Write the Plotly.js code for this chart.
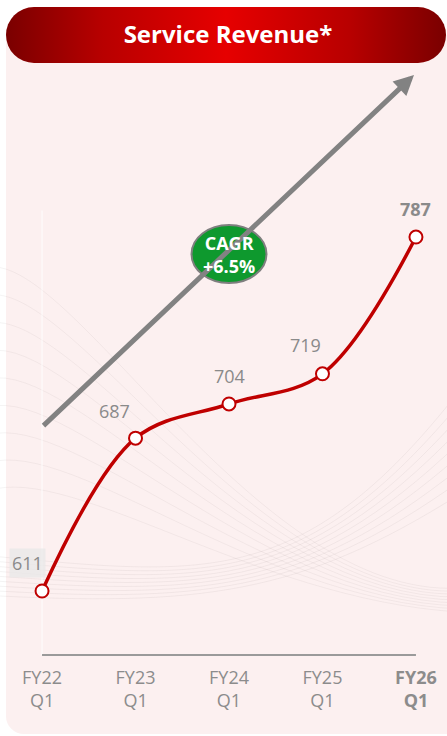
<!DOCTYPE html>
<html>
<head>
<meta charset="utf-8">
<script src="https://cdn.plot.ly/plotly-3.0.1.min.js"></script>
<style>
  html, body { margin:0; padding:0; background:#ffffff; }
  #wrap { position:relative; width:447px; height:736px; overflow:hidden; }
  #panel { position:absolute; left:6px; top:35px; width:441px; height:699px; background:#FCF0F0; border-bottom-left-radius:18px; }
  #pill { position:absolute; left:6px; top:7px; width:440px; height:56px; border-radius:28px;
          background:linear-gradient(to right, #7a0000 0%, #b80000 22%, #e60000 50%, #b80000 78%, #7a0000 100%); }
  #chart { position:absolute; left:0; top:0; width:447px; height:736px; }
</style>
</head>
<body>
<div id="wrap">
  <div id="panel"></div>
  <div id="pill"></div>
  <div id="chart"></div>
</div>
<script>
// ---- data ----
const categories = ["FY22 Q1", "FY23 Q1", "FY24 Q1", "FY25 Q1", "FY26 Q1"];
const tickLabels = ["FY22<br>Q1", "FY23<br>Q1", "FY24<br>Q1", "FY25<br>Q1", "<b>FY26</b><br><b>Q1</b>"];
const revenue = [611, 687, 704, 719, 787];
const valueLabels = ["611", "687", "704", "719", "<b>787</b>"];
const cagrText = "<b>CAGR</b><br><b>+6.5%</b>";
const titleText = "<b>Service Revenue*</b>";

// ---- geometry helpers (pixel -> paper) ----
const W = 447, H = 736;
const M = {l:14, r:3, t:70, b:81};
const pw = W - M.l - M.r, ph = H - M.t - M.b;
const px = X => (X - M.l) / pw;
const py = Y => (H - M.b - Y) / ph;
function pathPx(pts) {
  let s = "M " + px(pts[0][0]).toFixed(4) + "," + py(pts[0][1]).toFixed(4);
  for (let i = 1; i < pts.length; i++) {
    const p = pts[i];
    s += " C " + px(p[0]).toFixed(4) + "," + py(p[1]).toFixed(4) + " " +
         px(p[2]).toFixed(4) + "," + py(p[3]).toFixed(4) + " " +
         px(p[4]).toFixed(4) + "," + py(p[5]).toFixed(4);
  }
  return s;
}

// decorative faint background curves
const decoShapes = [];
for (let k = 0; k < 9; k++) {
  const y0 = 250 + k * 28;
  decoShapes.push({type:"path", xref:"paper", yref:"paper", layer:"below",
    path: pathPx([[-20, y0 + 20], [60, y0 - 20, 250, 600, 460, 588 + k * 3]]),
    line:{color:"rgba(120,105,105,0.07)", width:1}});
}
for (let k = 0; k < 9; k++) {
  decoShapes.push({type:"path", xref:"paper", yref:"paper", layer:"below",
    path: pathPx([[-20, 555 + k * 5], [200, 575 + k * 4, 300, 595, 460, 390 + k * 13]]),
    line:{color:"rgba(120,105,105,0.08)", width:1}});
}

const xIdx = categories.map((c, i) => i);

const trace = {
  x: xIdx, y: revenue, type: "scatter", mode: "lines+markers",
  line: {color:"#BF0000", width:3.5, shape:"spline", smoothing:1},
  marker: {size:13, color:"#ffffff", line:{color:"#BF0000", width:2}},
  hoverinfo: "skip", cliponaxis: false
};

const labelShift = [[-15, 28], [-21, 27], [0, 28], [-17, 29], [0, 28]];
const annotations = revenue.map((v, i) => ({
  x: xIdx[i], y: v, xref:"x", yref:"y", text: valueLabels[i], showarrow:false,
  xshift: labelShift[i][0], yshift: labelShift[i][1],
  font: {family:"Open Sans", size:18, color:"#8a8a8a"},
  bgcolor: i === 0 ? "rgba(232,232,232,0.75)" : "rgba(0,0,0,0)", borderpad: 2
}));

// growth arrow
annotations.push({
  xref:"paper", yref:"paper", axref:"paper", ayref:"paper",
  x: px(414), y: py(75), ax: px(42), ay: py(427),
  showarrow:true, arrowhead:2, arrowsize:0.8, arrowwidth:5, arrowcolor:"#828282", text:""
});
// CAGR text
annotations.push({
  xref:"paper", yref:"paper", x: px(229), y: py(254), text: cagrText, showarrow:false,
  font:{family:"Open Sans", size:18, color:"#ffffff"}, xanchor:"center", yanchor:"middle"
});

const shapes = decoShapes.concat([
  {type:"line", xref:"x", yref:"paper", x0:0, x1:0, y0:0, y1:0.76, layer:"below",
   line:{color:"rgba(255,255,255,0.45)", width:2}},
  {type:"line", xref:"x", yref:"paper", x0:0, x1:xIdx[xIdx.length-1], y0:0, y1:0,
   line:{color:"#9a9a9a", width:2}},
  {type:"circle", xref:"paper", yref:"paper", x0:px(191.5), x1:px(266.5), y0:py(283), y1:py(225),
   fillcolor:"#0E992E", line:{color:"#7f7f7f", width:2}}
]);

const yMin = 611 - (655 - 591) / 2.011;
const yMax = 611 + (591 - 70) / 2.011;

const layout = {
  width: W, height: H, margin: M,
  paper_bgcolor:"rgba(0,0,0,0)", plot_bgcolor:"rgba(0,0,0,0)",
  showlegend:false,
  title: {text: titleText, xref:"container", yref:"container", x:0.51, y:1 - 35 / H,
          xanchor:"center", yanchor:"middle",
          font:{family:"Open Sans", size:24, color:"#ffffff"}},
  xaxis: {range:[-0.3, 4.3], tickvals:xIdx, ticktext:tickLabels, showgrid:false, zeroline:false,
          showline:false, ticks:"", ticklabelstandoff:10,
          tickfont:{family:"Open Sans", size:18, color:"#8c8c8c", lineposition:"none"},
          fixedrange:true},
  yaxis: {range:[yMin, yMax], visible:false, showgrid:false, zeroline:false, fixedrange:true},
  shapes: shapes, annotations: annotations
};

Plotly.newPlot("chart", [trace], layout, {displayModeBar:false, staticPlot:true});
</script>
</body>
</html>
